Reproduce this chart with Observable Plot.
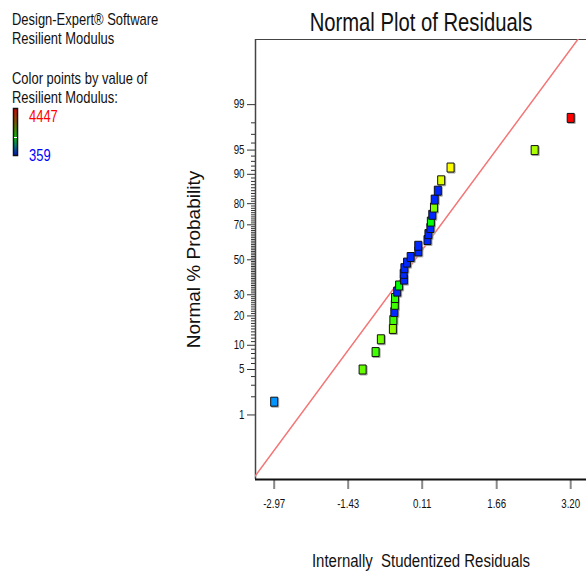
<!DOCTYPE html>
<html>
<head>
<meta charset="utf-8">
<script src="https://cdn.jsdelivr.net/npm/d3@7"></script>
<script src="https://cdn.jsdelivr.net/npm/@observablehq/plot@0.6"></script>
<style>
  html, body { margin: 0; padding: 0; background: #fff; }
  #wrap { position: relative; width: 586px; height: 571px; overflow: hidden; }
  #wrap svg { position: absolute; left: 0; top: 0; }
</style>
</head>
<body>
<div id="wrap"></div>
<script>
// ---------- data ----------
// internally studentized residuals, in rank order
const residuals = [-2.97, -1.13, -0.86, -0.75, -0.50, -0.49, -0.47, -0.46, -0.455, -0.41,
  -0.37, -0.27, -0.275, -0.26, -0.205, -0.13, 0.03, 0.028, 0.22, 0.24,
  0.28, 0.29, 0.32, 0.355, 0.37, 0.435, 0.505, 0.70, 2.45, 3.20];
// normal % probability of each point
const probability = [1.67, 5, 8.33, 11.67, 15, 18.33, 21.67, 25, 28.33, 31.67,
  35, 38.33, 41.67, 45, 48.33, 51.67, 55, 58.33, 61.67, 65,
  68.33, 71.67, 75, 78.33, 81.67, 85, 88.33, 91.67, 95, 98.33];
const modulus = [955, 2810, 2650, 2850, 2975, 2650, 520, 2650, 2600, 520,
  2400, 520, 520, 520, 520, 520, 520, 520, 520, 520,
  520, 2380, 520, 2900, 520, 520, 3290, 3425, 3085, 4447];
// reference line (two end points, residual and % probability)
const lineResid = [-3.37, 3.53];
const linePct = [0.0587, 99.975];
// axis ticks
const xTicks = [-2.97, -1.43, 0.11, 1.66, 3.20];
const yMajor = [1, 5, 10, 20, 30, 50, 70, 80, 90, 95, 99];
const yMinor = [2, 3, 4, 6, 7, 8, 9, 11, 12, 13, 14, 15, 16, 17, 18, 19, 21, 22, 23, 24, 25, 26, 27, 28, 29,
  31, 32, 33, 34, 35, 36, 37, 38, 39, 40, 41, 42, 43, 44, 45, 46, 47, 48, 49, 51, 52, 53, 54, 55, 56, 57, 58, 59,
  60, 61, 62, 63, 64, 65, 66, 67, 68, 69, 71, 72, 73, 74, 75, 76, 77, 78, 79, 81, 82, 83, 84, 85, 86, 87, 88, 89,
  91, 92, 93, 94, 96, 97, 98];
const colorMin = 359, colorMax = 4447;

// ---------- helpers ----------
function probit(p) {
  const a=[-3.969683028665376e+01,2.209460984245205e+02,-2.759285104469687e+02,1.383577518672690e+02,-3.066479806614716e+01,2.506628277459239e+00];
  const b=[-5.447609879822406e+01,1.615858368580409e+02,-1.556989798598866e+02,6.680131188771972e+01,-1.328068155288572e+01];
  const c=[-7.784894002430293e-03,-3.223964580411365e-01,-2.400758277161838e+00,-2.549671671301838e+00,4.374664141464968e+00,2.938163982698783e+00];
  const d=[7.784695709041462e-03,3.224671290700398e-01,2.445134137142996e+00,3.754408661907416e+00];
  const pl = 0.02425, ph = 1 - pl;
  if (p < pl) { const q = Math.sqrt(-2*Math.log(p)); return (((((c[0]*q+c[1])*q+c[2])*q+c[3])*q+c[4])*q+c[5])/((((d[0]*q+d[1])*q+d[2])*q+d[3])*q+1); }
  if (p <= ph) { const q = p-0.5, r = q*q; return (((((a[0]*r+a[1])*r+a[2])*r+a[3])*r+a[4])*r+a[5])*q/(((((b[0]*r+b[1])*r+b[2])*r+b[3])*r+b[4])*r+1); }
  const q = Math.sqrt(-2*Math.log(1-p)); return -(((((c[0]*q+c[1])*q+c[2])*q+c[3])*q+c[4])*q+c[5])/((((d[0]*q+d[1])*q+d[2])*q+d[3])*q+1);
}
const z = pct => probit(pct / 100);

const points = residuals.map((r, i) => ({r, z: z(probability[i]), m: modulus[i]}));
const fitLine = lineResid.map((r, i) => ({r, z: z(linePct[i])}));
const majorZ = yMajor.map(z);
const majorLabel = new Map(majorZ.map((v, i) => [v, String(yMajor[i])]));
const minorZ = yMinor.map(z);

const rectSymbol = { draw(ctx) { ctx.rect(-3.5, -4.5, 7, 9); } };
const FONT = '"Liberation Sans", Arial, sans-serif';
const NARROW_K = 0.81;   // horizontal squeeze to mimic Arial Narrow

const xDomain = [-3.359, 3.529];
const yDomain = [-3.294, 3.303];

const chart = Plot.plot({
  width: 586,
  height: 571,
  marginLeft: 255,
  marginRight: 0,
  marginTop: 39,
  marginBottom: 92,
  style: {fontFamily: FONT, background: "transparent"},
  x: {domain: xDomain, axis: null},
  y: {domain: yDomain, axis: null},
  color: {type: "linear", domain: [colorMin, colorMax], interpolate: t => d3.hsl(240 * (1 - t), 1, 0.5).formatHex()},
  marks: [
    // minor y ticks
    Plot.axisY(minorZ, {tickSize: 4, tickFormat: () => "", label: null, stroke: "#333", strokeWidth: 1}),
    // major y ticks
    Plot.axisY(majorZ, {tickSize: 8, tickPadding: 3, label: null, tickFormat: d => majorLabel.get(d), stroke: "#333", fill: "#111", fontSize: 12}),
    // x ticks
    Plot.axisX(xTicks, {tickSize: 10, tickPadding: 10, label: null, strokeWidth: 2, stroke: "#888", fill: "#111", fontSize: 12, tickFormat: d => d.toFixed(2)}),
    // frame: top, left, bottom
    Plot.ruleY([yDomain[1]], {stroke: "#444", strokeWidth: 1.2}),
    Plot.ruleX([xDomain[0]], {stroke: "#444", strokeWidth: 1.5}),
    Plot.ruleY([yDomain[0]], {stroke: "#111", strokeWidth: 2}),
    // reference line
    Plot.line(fitLine, {x: "r", y: "z", stroke: "#f47575", strokeWidth: 1.5, clip: true}),
    // shadows
    Plot.dot(points, {x: "r", y: "z", symbol: rectSymbol, fill: "#aaa", stroke: "#aaa", strokeWidth: 1, dx: 1, dy: 1}),
    // points
    Plot.dot(points, {x: "r", y: "z", symbol: rectSymbol, fill: "m", stroke: "#111", strokeWidth: 1}),
    // title + axis labels
    Plot.text(["Normal Plot of Residuals"], {frameAnchor: "top", dy: -17, lineAnchor: "middle", fontSize: 25, fill: "#111"}),
    Plot.text(["Internally  Studentized Residuals"], {frameAnchor: "bottom", dy: 82, lineAnchor: "middle", fontSize: 18.5, fill: "#111"}),
    Plot.text(["Normal % Probability"], {frameAnchor: "left", dx: -62, rotate: -90, textAnchor: "middle", lineAnchor: "middle", fontSize: 19, fill: "#111"})
  ]
});

// squeeze texts horizontally (narrow font look), except the rotated y label.
// Only the horizontal scale changes, so y attributes (possibly in em) are left alone.
function condense(root, k, skip) {
  root.querySelectorAll("text").forEach(t => {
    if (skip && skip(t)) return;
    const x = t.getAttribute("x");
    if (x != null && !isNaN(+x) && +x !== 0) t.setAttribute("x", +x / k);
    const tr = t.getAttribute("transform") || "";
    t.setAttribute("transform", (tr + ` scale(${k},1)`).trim());
  });
}
condense(chart, NARROW_K, t => t.textContent === "Normal % Probability");
document.getElementById("wrap").appendChild(chart);

// ---------- top-left legend block ----------
const legendLines = ["Design-Expert\u00ae Software", "Resilient Modulus", "Color points by value of", "Resilient Modulus:"];
const legendBase = [25, 44, 84, 103];
const ns = "http://www.w3.org/2000/svg";
const leg = document.createElementNS(ns, "svg");
leg.setAttribute("width", 200); leg.setAttribute("height", 175);
leg.style.fontFamily = FONT;
let html = `<defs><linearGradient id="cg" x1="0" y1="1" x2="0" y2="0">
  <stop offset="0" stop-color="#0010d0"/><stop offset="0.2" stop-color="#007a80"/>
  <stop offset="0.38" stop-color="#00c400"/><stop offset="0.7" stop-color="#7a5a00"/>
  <stop offset="1" stop-color="#e00000"/></linearGradient></defs>`;
legendLines.forEach((t, i) => {
  html += `<text transform="translate(12,${legendBase[i]}) scale(${NARROW_K},1)" font-size="16" fill="#111">${t}</text>`;
});
html += `<rect x="13.5" y="108.5" width="4" height="47" fill="url(#cg)" stroke="#111" stroke-width="1.5"/>`;
html += `<line x1="14" x2="17" y1="137.5" y2="137.5" stroke="#fff" stroke-width="1"/>`;
html += `<text transform="translate(29,122) scale(${NARROW_K},1)" font-size="16" fill="#ff0000">${colorMax}</text>`;
html += `<text transform="translate(29,161) scale(${NARROW_K},1)" font-size="16" fill="#0000ff">${colorMin}</text>`;
leg.innerHTML = html;
document.getElementById("wrap").appendChild(leg);
</script>
</body>
</html>
